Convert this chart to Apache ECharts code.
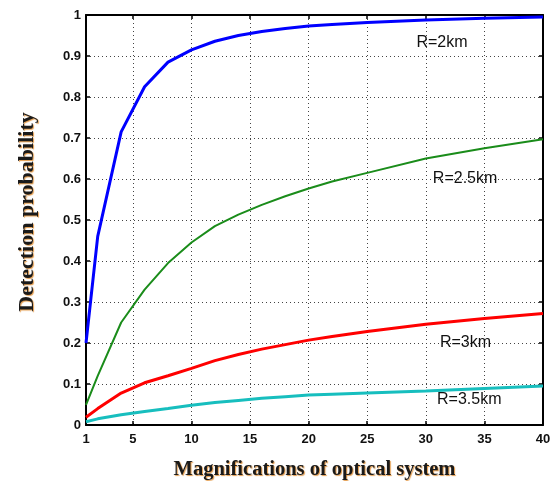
<!DOCTYPE html>
<html lang="en">
<head>
    <meta charset="UTF-8"/>
    <title>Detection probability vs magnification</title>
    <script src="https://cdn.jsdelivr.net/npm/echarts@6/dist/echarts.min.js"></script>
    <style>
        body {
            margin: 0;
            background-color: #fff;
        }

        #chart {
            width: 551px;
            height: 481px;
        }
    </style>
</head>
<body>
<div id="chart"></div>
<script>
    // magnification values (x) and detection probability per range
    const magnifications = [1, 2, 4, 6, 8, 10, 12, 14, 16, 18, 20, 22, 25, 30, 35, 40];
    const probR2 = [0.2, 0.46, 0.715, 0.825, 0.885, 0.915, 0.936, 0.95, 0.96, 0.967, 0.973, 0.977, 0.982, 0.988, 0.992, 0.995];
    const probR25 = [0.049, 0.12, 0.25, 0.33, 0.395, 0.445, 0.485, 0.513, 0.537, 0.558, 0.577, 0.594, 0.615, 0.65, 0.675, 0.697];
    const probR3 = [0.019, 0.04, 0.078, 0.103, 0.12, 0.138, 0.157, 0.172, 0.185, 0.196, 0.207, 0.216, 0.228, 0.246, 0.26, 0.272];
    const probR35 = [0.008, 0.015, 0.025, 0.033, 0.04, 0.048, 0.055, 0.06, 0.065, 0.069, 0.073, 0.075, 0.078, 0.083, 0.089, 0.095];

    const xTicks = [1, 5, 10, 15, 20, 25, 30, 35, 40];
    const seriesNames = ['R=2km', 'R=2.5km', 'R=3km', 'R=3.5km'];
    // where each curve's text label sits, in data coordinates
    const labelPos = [[29.2, 0.932], [30.6, 0.6], [31.2, 0.202], [30.96, 0.061]];

    const colors = ['#0000ff', '#1a8c1a', '#ff0000', '#17bebe'];
    const widths = [3, 2, 3, 3];
    const allProbs = [probR2, probR25, probR3, probR35];

    const tickFont = {
        fontFamily: 'Liberation Sans, Arial, sans-serif',
        fontWeight: 'bold',
        fontSize: 13,
        color: '#111'
    };
    const titleShadow = {
        textShadowColor: 'rgba(220,130,30,0.8)',
        textShadowBlur: 1,
        textShadowOffsetX: 1,
        textShadowOffsetY: 1
    };
    const gridLine = {show: true, lineStyle: {type: [1, 3], color: '#444', width: 1}};
    const frameLine = {show: true, onZero: false, lineStyle: {color: '#000', width: 2}};
    const tickStyle = {show: true, inside: true, length: 4, lineStyle: {color: '#000', width: 1.5}};

    const chart = echarts.init(document.getElementById('chart'));

    chart.setOption({
        animation: false,
        grid: {left: 86, right: 8, top: 15, bottom: 56, containLabel: false, outerBoundsMode: 'none'},
        graphic: [{
            type: 'text',
            x: 27,
            y: 212,
            rotation: Math.PI / 2,
            style: Object.assign({
                text: 'Detection probability',
                font: 'bold 22px "Liberation Serif", "Times New Roman", serif',
                fill: '#1a1a1a',
                align: 'center',
                verticalAlign: 'middle'
            }, titleShadow)
        }],
        xAxis: [
            {
                type: 'value', min: 1, max: 40,
                name: 'Magnifications of optical system',
                nameLocation: 'middle', nameGap: 34,
                nameTextStyle: Object.assign({
                    fontFamily: 'Liberation Serif, Times New Roman, serif',
                    fontWeight: 'bold',
                    fontSize: 20.5,
                    color: '#1a1a1a'
                }, titleShadow),
                axisLine: frameLine,
                axisTick: Object.assign({customValues: xTicks}, tickStyle),
                axisLabel: Object.assign({margin: 8, customValues: xTicks}, tickFont),
                splitLine: gridLine
            },
            {
                type: 'value', min: 1, max: 40, position: 'top',
                axisLine: frameLine,
                axisTick: Object.assign({customValues: xTicks}, tickStyle),
                axisLabel: {show: false},
                splitLine: {show: false}
            }
        ],
        yAxis: [
            {
                type: 'value', min: 0, max: 1, interval: 0.1,
                axisLine: frameLine,
                axisTick: tickStyle,
                axisLabel: Object.assign({margin: 5}, tickFont),
                splitLine: gridLine
            },
            {
                type: 'value', min: 0, max: 1, interval: 0.1, position: 'right',
                axisLine: frameLine,
                axisTick: tickStyle,
                axisLabel: {show: false},
                splitLine: {show: false}
            }
        ],
        series: allProbs.map((probs, i) => ({
            name: seriesNames[i],
            type: 'line',
            data: magnifications.map((m, j) => [m, probs[j]]),
            showSymbol: false,
            symbol: 'none',
            lineStyle: {color: colors[i], width: widths[i]},
            itemStyle: {color: colors[i]},
            z: 3,
            markPoint: {
                symbol: 'circle',
                symbolSize: 0,
                data: [{coord: labelPos[i], value: seriesNames[i]}],
                label: {
                    show: true,
                    position: 'right',
                    distance: 0,
                    formatter: '{c}',
                    fontFamily: 'Liberation Sans, Arial, sans-serif',
                    fontSize: 16,
                    color: '#111'
                }
            }
        }))
    });
</script>
</body>
</html>
